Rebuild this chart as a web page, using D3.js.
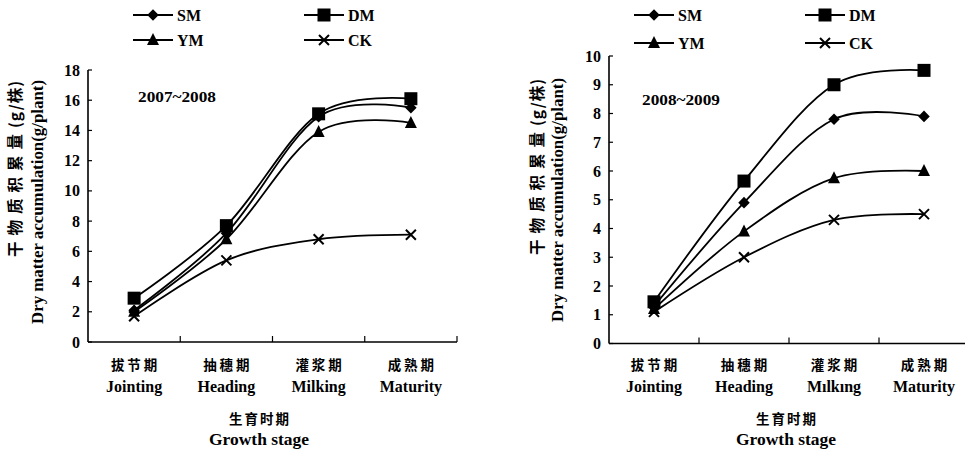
<!DOCTYPE html>
<html><head><meta charset="utf-8">
<script src="https://cdn.jsdelivr.net/npm/d3@7"></script>
<style>body{margin:0;background:#fff}svg{display:block}</style>
</head><body>
<svg id="c" width="965" height="455"></svg>
<script>
const stagesCN = ["拔节期","抽穗期","灌浆期","成熟期"];
const stagesEN = ["Jointing","Heading","Milking","Maturity"];
const stagesEN2 = ["Jointing","Heading","Mılkıng","Maturity"];
const seriesNames = ["SM","DM","YM","CK"];
// 2007~2008
const sm1 = [2.1, 7.2, 14.9, 15.5];
const dm1 = [2.9, 7.7, 15.1, 16.1];
const ym1 = [2.0, 6.8, 13.9, 14.5];
const ck1 = [1.7, 5.4, 6.8, 7.1];
// 2008~2009
const sm2 = [1.3, 4.9, 7.8, 7.9];
const dm2 = [1.45, 5.65, 9.0, 9.5];
const ym2 = [1.2, 3.9, 5.75, 6.0];
const ck2 = [1.1, 3.0, 4.3, 4.5];
const yTicks1 = [0,2,4,6,8,10,12,14,16,18];
const yTicks2 = [0,1,2,3,4,5,6,7,8,9,10];

const svg = d3.select("#c");
const SERIF = "'Liberation Serif','Times New Roman',serif";
const CJK = "'Noto Sans CJK SC','Noto Sans CJK JP',sans-serif";

function marker(g, type, x, y) {
  if (type === "SM") {
    g.append("path").attr("d", d3.symbol(d3.symbolDiamond2, 85)()).attr("transform", `translate(${x},${y})`).attr("fill", "#000");
  } else if (type === "DM") {
    g.append("rect").attr("x", x-6.5).attr("y", y-6.5).attr("width", 13).attr("height", 13).attr("fill", "#000");
  } else if (type === "YM") {
    g.append("path").attr("d", `M${x},${y-7}L${x+6},${y+5}L${x-6},${y+5}Z`).attr("fill", "#000");
  } else {
    g.append("path").attr("d", `M${x-5},${y-5}L${x+5},${y+5}M${x+5},${y-5}L${x-5},${y+5}`).attr("stroke", "#000").attr("stroke-width", 2).attr("fill","none");
  }
}

function panel(o) {
  const g = svg.append("g");
  const x = d3.scaleBand().domain(stagesEN).range([o.x0, o.x1]);
  const y = d3.scaleLinear().domain([0, o.ymax]).range([o.y0, o.y1]);

  // axes lines
  g.append("line").attr("x1", o.x0).attr("x2", o.x0).attr("y1", o.y0).attr("y2", o.y1).attr("stroke","#000").attr("stroke-width",1.6);
  g.append("line").attr("x1", o.x0).attr("x2", o.x1).attr("y1", o.y0).attr("y2", o.y0).attr("stroke","#000").attr("stroke-width",1.6);
  // y ticks
  o.yTicks.forEach(t => {
    g.append("line").attr("x1", o.x0).attr("x2", o.x0+4).attr("y1", y(t)).attr("y2", y(t)).attr("stroke","#000").attr("stroke-width",1.2);
    g.append("text").attr("x", o.x0-8).attr("y", y(t)+5.5).attr("text-anchor","end")
      .attr("font-family", SERIF).attr("font-weight","bold").attr("font-size", 16).text(t);
  });
  // x ticks at band boundaries
  stagesEN.forEach(s => {
    const xb = x(s) + x.bandwidth();
    g.append("line").attr("x1", xb).attr("x2", xb).attr("y1", o.y0).attr("y2", o.y0-6).attr("stroke","#000").attr("stroke-width",1.2);
  });
  // category labels
  stagesEN.forEach((s, i) => {
    const cx = x(s) + x.bandwidth()/2;
    g.append("text").attr("x", cx + 1.5).attr("y", 370).attr("text-anchor","middle")
      .attr("font-family", CJK).attr("font-weight","bold").attr("font-size", 13.5).attr("letter-spacing", 3).text(stagesCN[i]);
    g.append("text").attr("x", cx).attr("y", 392).attr("text-anchor","middle")
      .attr("font-family", SERIF).attr("font-weight","bold").attr("font-size", 16).text(o.labelsEN[i]);
  });
  // x title
  g.append("text").attr("x", o.xtc + 1).attr("y", 424).attr("text-anchor","middle")
    .attr("font-family", CJK).attr("font-weight","bold").attr("font-size", 13.5).attr("letter-spacing", 2).text("生育时期");
  g.append("text").attr("x", o.xtc).attr("y", 445).attr("text-anchor","middle")
    .attr("font-family", SERIF).attr("font-weight","bold").attr("font-size", 16)
    .attr("textLength", 100).attr("lengthAdjust","spacingAndGlyphs").text("Growth stage");
  // y titles
  const cn = g.append("text").attr("transform", `translate(${o.ytCN},${o.ytTop}) rotate(-90)`).attr("text-anchor","end")
    .attr("font-family", CJK).attr("font-weight","bold").attr("font-size", 15.5);
  cn.append("tspan").attr("letter-spacing", 6).text("干物质积累量");
  cn.append("tspan").attr("letter-spacing", 1).text("(g/株)");
  g.append("text").attr("transform", `translate(${o.ytEN},${o.ytTop}) rotate(-90)`).attr("text-anchor","end")
    .attr("font-family", SERIF).attr("font-weight","bold").attr("font-size", 16)
    .attr("textLength", 244).attr("lengthAdjust","spacingAndGlyphs").text("Dry matter accumulation(g/plant)");
  // year label
  g.append("text").attr("x", o.yrx).attr("y", o.yry).attr("font-family", SERIF).attr("font-weight","bold")
    .attr("font-size", 15).attr("textLength", 78).attr("lengthAdjust","spacingAndGlyphs").text(o.year);

  // lines
  const line = d3.line().x((d,i) => x(stagesEN[i]) + x.bandwidth()/2).y(d => y(d)).curve(d3.curveCatmullRom.alpha(0));
  o.data.forEach((vals, k) => {
    g.append("path").attr("d", line(vals)).attr("fill","none").attr("stroke","#000").attr("stroke-width",1.8);
  });
  o.data.forEach((vals, k) => {
    vals.forEach((v, i) => marker(g, seriesNames[k], x(stagesEN[i]) + x.bandwidth()/2, y(v)));
  });

  // legend
  const lg = [[o.lgA, o.lr1, "SM"], [o.lgB, o.lr1, "DM"], [o.lgA, o.lr2, "YM"], [o.lgB, o.lr2, "CK"]];
  lg.forEach(([lx, ly, name]) => {
    g.append("line").attr("x1", lx).attr("x2", lx+40).attr("y1", ly).attr("y2", ly).attr("stroke","#000").attr("stroke-width",1.8);
    marker(g, name, lx+20, ly);
    g.append("text").attr("x", lx+44).attr("y", ly+5.5).attr("font-family", SERIF).attr("font-weight","bold").attr("font-size", 16).text(name);
  });
}

panel({x0: 88, x1: 457, y0: 342, y1: 70, ymax: 18, yTicks: yTicks1, labelsEN: stagesEN,
  data: [sm1, dm1, ym1, ck1], xtc: 259, ytCN: 21, ytEN: 43, ytTop: 80, yrx: 138, yry: 102, year: "2007~2008",
  lgA: 133, lgB: 304, lr1: 15, lr2: 40});
panel({x0: 609, x1: 969, y0: 343.5, y1: 56, ymax: 10, yTicks: yTicks2, labelsEN: stagesEN2,
  data: [sm2, dm2, ym2, ck2], xtc: 786, ytCN: 543, ytEN: 563, ytTop: 78, yrx: 642, yry: 105, year: "2008~2009",
  lgA: 634, lgB: 805, lr1: 15, lr2: 43});
</script>
</body></html>
